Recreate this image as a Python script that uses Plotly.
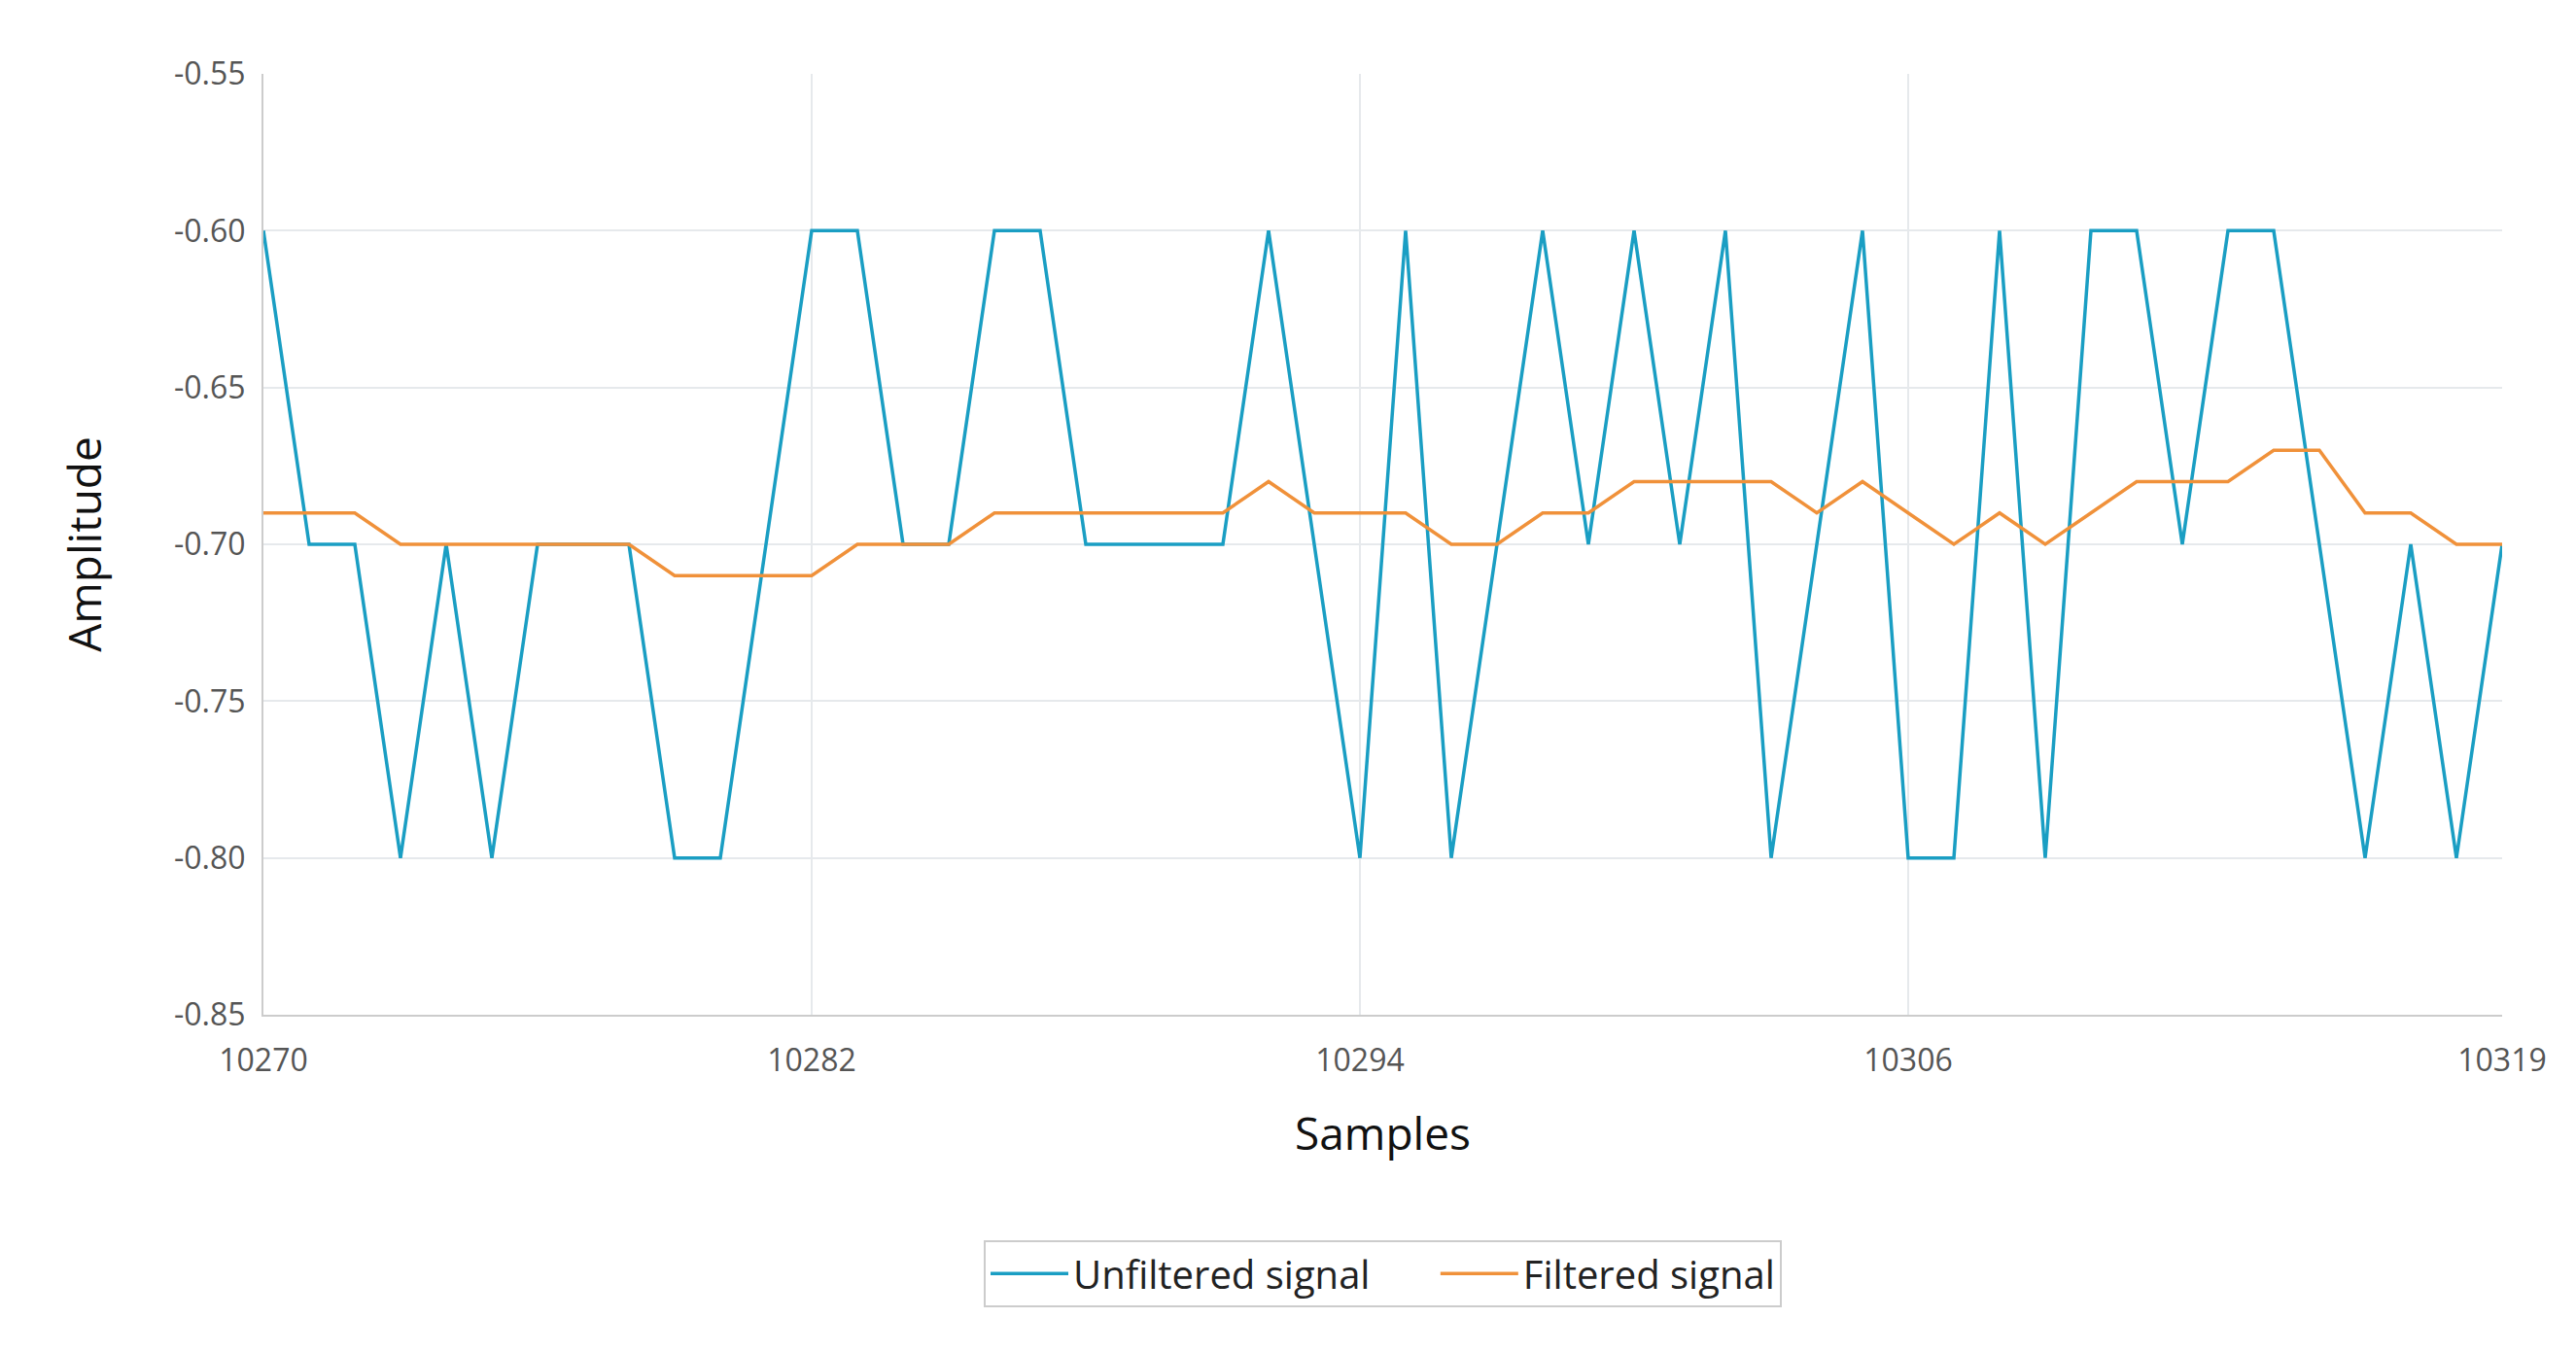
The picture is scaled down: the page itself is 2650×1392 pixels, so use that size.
import plotly.graph_objects as go

x_start = 10270
unfiltered = [-0.60,-0.70,-0.70,-0.80,-0.70,-0.80,-0.70,-0.70,-0.70,-0.80,
              -0.80,-0.70,-0.60,-0.60,-0.70,-0.70,-0.60,-0.60,-0.70,-0.70,
              -0.70,-0.70,-0.60,-0.70,-0.80,-0.60,-0.80,-0.70,-0.60,-0.70,
              -0.60,-0.70,-0.60,-0.80,-0.70,-0.60,-0.80,-0.80,-0.60,-0.80,
              -0.60,-0.60,-0.70,-0.60,-0.60,-0.70,-0.80,-0.70,-0.80,-0.70]
filtered = [-0.69,-0.69,-0.69,-0.70,-0.70,-0.70,-0.70,-0.70,-0.70,-0.71,
            -0.71,-0.71,-0.71,-0.70,-0.70,-0.70,-0.69,-0.69,-0.69,-0.69,
            -0.69,-0.69,-0.68,-0.69,-0.69,-0.69,-0.70,-0.70,-0.69,-0.69,
            -0.68,-0.68,-0.68,-0.68,-0.69,-0.68,-0.69,-0.70,-0.69,-0.70,
            -0.69,-0.68,-0.68,-0.68,-0.67,-0.67,-0.69,-0.69,-0.70,-0.70]
samples = [x_start + i for i in range(len(unfiltered))]
x_ticks = [10270, 10282, 10294, 10306, 10319]
y_ticks = [-0.85, -0.80, -0.75, -0.70, -0.65, -0.60, -0.55]

fig = go.Figure()
fig.add_trace(go.Scatter(x=samples, y=unfiltered, mode="lines", name="Unfiltered signal      ",
                         line=dict(color="#1a9ec3", width=3.5)))
fig.add_trace(go.Scatter(x=samples, y=filtered, mode="lines", name="Filtered signal",
                         line=dict(color="#f0913a", width=3.5)))
fig.update_layout(
    width=2650, height=1392, paper_bgcolor="white", plot_bgcolor="white",
    margin=dict(l=263, r=84, t=68, b=356),
    font=dict(family="Open Sans", color="#333333"),
    legend=dict(orientation="h", x=0.5, xanchor="center", y=-0.275, yanchor="middle",
                bordercolor="#cccccc", borderwidth=2, font=dict(size=40, color="#222222"),
                itemwidth=80),
    showlegend=True,
)
fig.update_xaxes(range=[10270, 10319], tickvals=x_ticks, ticktext=[str(v) for v in x_ticks],
                 showgrid=True, gridcolor="#e6e9ec", gridwidth=2, zeroline=False,
                 showline=True, linecolor="#cccccc", linewidth=2,
                 ticks="outside", ticklen=18, tickcolor="rgba(0,0,0,0)",
                 tickfont=dict(size=32, color="#555555"),
                 title=dict(text="Samples", font=dict(size=46, color="#111111"), standoff=40))
fig.update_yaxes(range=[-0.85, -0.55], tickvals=y_ticks, ticktext=[f"{v:.2f}" for v in y_ticks],
                 showgrid=True, gridcolor="#e6e9ec", gridwidth=2, zeroline=False,
                 showline=True, linecolor="#cccccc", linewidth=2,
                 ticks="outside", ticklen=10, tickcolor="rgba(0,0,0,0)",
                 tickfont=dict(size=32, color="#555555"),
                 title=dict(text="Amplitude", font=dict(size=46, color="#111111"), standoff=60))
fig.write_html("out.html")
